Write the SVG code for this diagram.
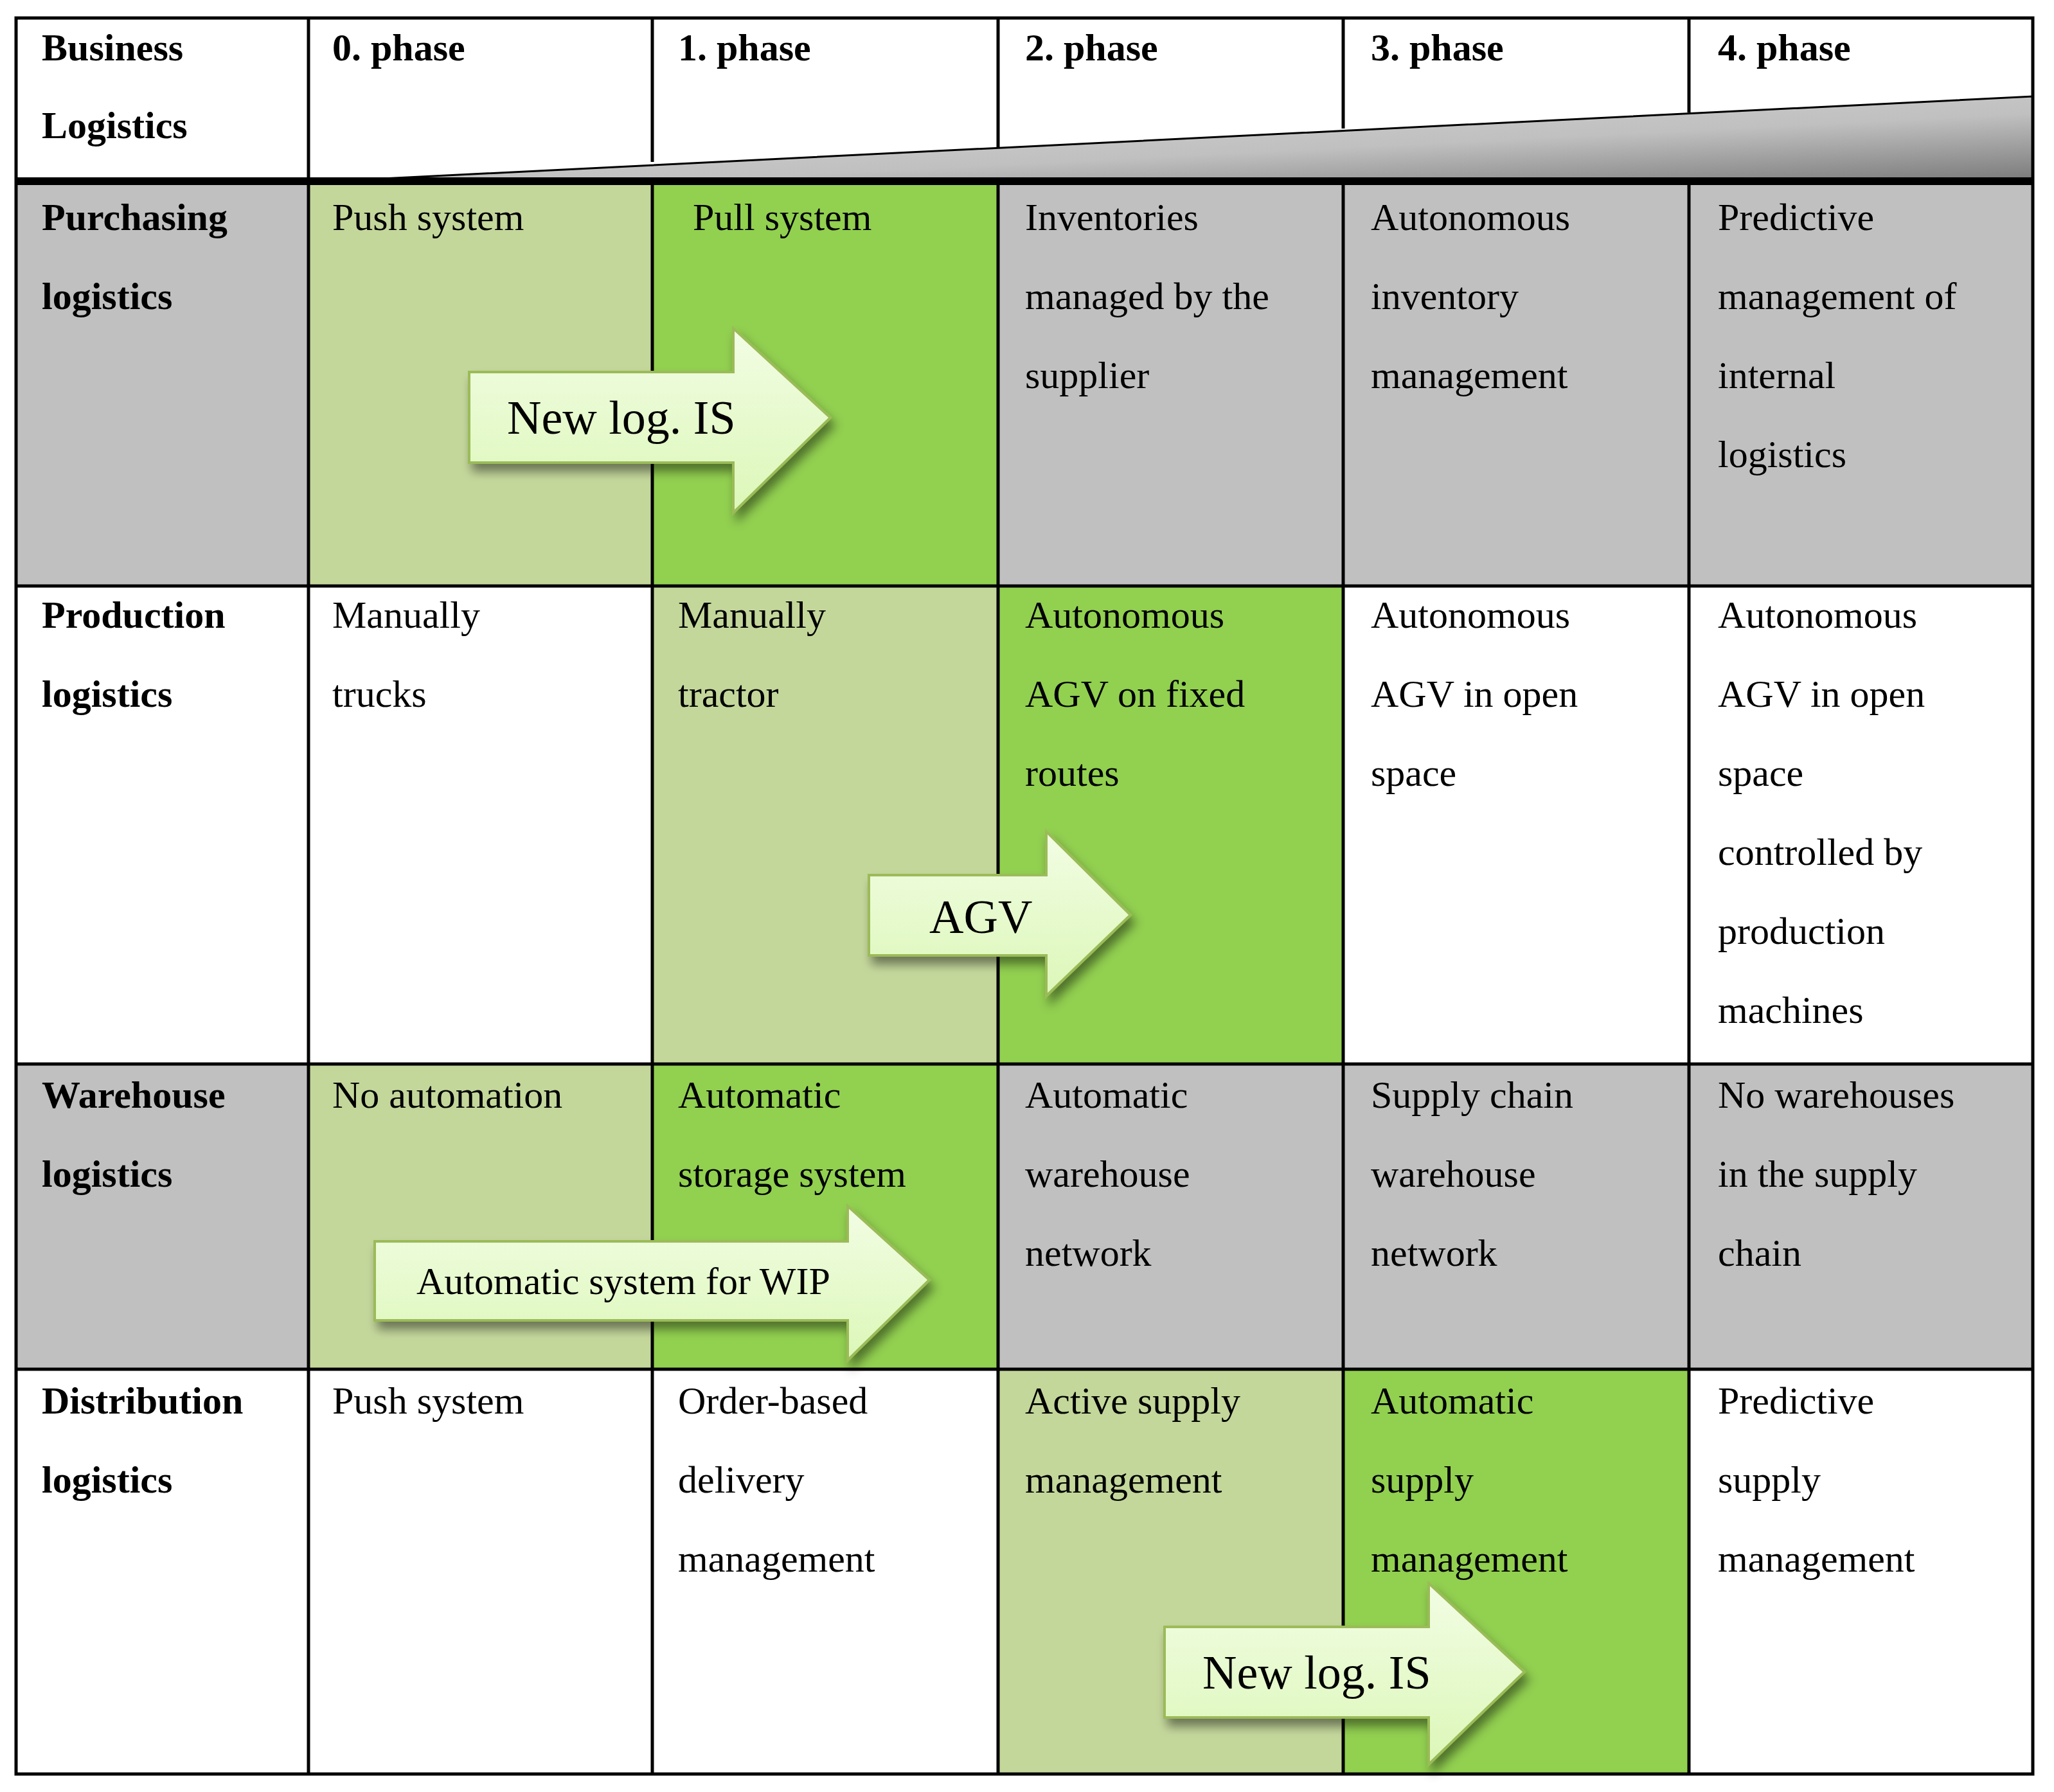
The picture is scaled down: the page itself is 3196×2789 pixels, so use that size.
<svg xmlns="http://www.w3.org/2000/svg" width="3196" height="2789" viewBox="0 0 3196 2789">
<style>
text{font-family:"Liberation Serif","DejaVu Serif",serif;font-size:60px;fill:#000}
.b{font-weight:bold}
.g{fill:#c0c0c0}.lg{fill:#c4d79b}.dg{fill:#92d050}.w{fill:#fff}
.ln{stroke:#000;stroke-width:5;fill:none}
.ar{fill:url(#ag);stroke:#9bbb59;stroke-width:4;filter:url(#sh)}
.al{font-size:74px}
</style>
<defs>
<linearGradient id="ag" x1="0" y1="0" x2="0" y2="1"><stop offset="0" stop-color="#f2fde4"/><stop offset="1" stop-color="#dcf7b8"/></linearGradient>
<linearGradient id="wg" x1="0" y1="0" x2="1" y2="1"><stop offset="0" stop-color="#d8d8d8"/><stop offset="0.6" stop-color="#c0c0c0"/><stop offset="1" stop-color="#7a7a7a"/></linearGradient>
<filter id="sh" x="-10%" y="-10%" width="130%" height="140%"><feDropShadow dx="6" dy="12" stdDeviation="8" flood-color="#000" flood-opacity="0.45"/></filter>
</defs>
<rect width="3196" height="2789" fill="#fff"/>
<g id="cells">
<rect class="g" x="25" y="282" width="455" height="630"/>
<rect class="lg" x="480" y="282" width="535" height="630"/>
<rect class="dg" x="1015" y="282" width="538" height="630"/>
<rect class="g" x="1553" y="282" width="1610" height="630"/>
<rect class="lg" x="1015" y="912" width="538" height="744"/>
<rect class="dg" x="1553" y="912" width="537" height="744"/>
<rect class="g" x="25" y="1656" width="455" height="475"/>
<rect class="lg" x="480" y="1656" width="535" height="475"/>
<rect class="dg" x="1015" y="1656" width="538" height="475"/>
<rect class="g" x="1553" y="1656" width="1610" height="475"/>
<rect class="lg" x="1553" y="2131" width="537" height="630"/>
<rect class="dg" x="2090" y="2131" width="538" height="630"/>
<polygon points="515,282 3163,150 3163,282" fill="url(#wg)" stroke="#000" stroke-width="3"/>
</g>
<g id="grid">
<rect x="25" y="28" width="3138" height="2733" class="ln" stroke-width="6"/>
<path class="ln" d="M480 28V2761M1015 28V252M1015 282V2761M1553 28V230M1553 282V2761M2090 28V200M2090 282V2761M2628 28V175M2628 282V2761M25 912H3163M25 1656H3163M25 2131H3163"/>
<line x1="25" y1="282" x2="3163" y2="282" stroke="#000" stroke-width="12"/>
</g>
<g id="header">
<text class="b" x="65" y="94">Business</text><text class="b" x="65" y="215">Logistics</text>
<text class="b" x="517" y="94">0. phase</text>
<text class="b" x="1055" y="94">1. phase</text>
<text class="b" x="1595" y="94">2. phase</text>
<text class="b" x="2133" y="94">3. phase</text>
<text class="b" x="2673" y="94">4. phase</text>
</g>
<g id="row1">
<text class="b" x="65" y="358">Purchasing</text><text class="b" x="65" y="481">logistics</text>
<text x="517" y="358">Push system</text>
<text x="1078" y="358">Pull system</text>
<text x="1595" y="358">Inventories</text><text x="1595" y="481">managed by the</text><text x="1595" y="604">supplier</text>
<text x="2133" y="358">Autonomous</text><text x="2133" y="481">inventory</text><text x="2133" y="604">management</text>
<text x="2673" y="358">Predictive</text><text x="2673" y="481">management of</text><text x="2673" y="604">internal</text><text x="2673" y="727">logistics</text>
</g>
<g id="row2">
<text class="b" x="65" y="977">Production</text><text class="b" x="65" y="1100">logistics</text>
<text x="517" y="977">Manually</text><text x="517" y="1100">trucks</text>
<text x="1055" y="977">Manually</text><text x="1055" y="1100">tractor</text>
<text x="1595" y="977">Autonomous</text><text x="1595" y="1100">AGV on fixed</text><text x="1595" y="1223">routes</text>
<text x="2133" y="977">Autonomous</text><text x="2133" y="1100">AGV in open</text><text x="2133" y="1223">space</text>
<text x="2673" y="977">Autonomous</text><text x="2673" y="1100">AGV in open</text><text x="2673" y="1223">space</text><text x="2673" y="1346">controlled by</text><text x="2673" y="1469">production</text><text x="2673" y="1592">machines</text>
</g>
<g id="row3">
<text class="b" x="65" y="1724">Warehouse</text><text class="b" x="65" y="1847">logistics</text>
<text x="517" y="1724">No automation</text>
<text x="1055" y="1724">Automatic</text><text x="1055" y="1847">storage system</text>
<text x="1595" y="1724">Automatic</text><text x="1595" y="1847">warehouse</text><text x="1595" y="1970">network</text>
<text x="2133" y="1724">Supply chain</text><text x="2133" y="1847">warehouse</text><text x="2133" y="1970">network</text>
<text x="2673" y="1724">No warehouses</text><text x="2673" y="1847">in the supply</text><text x="2673" y="1970">chain</text>
</g>
<g id="row4">
<text class="b" x="65" y="2200">Distribution</text><text class="b" x="65" y="2323">logistics</text>
<text x="517" y="2200">Push system</text>
<text x="1055" y="2200">Order-based</text><text x="1055" y="2323">delivery</text><text x="1055" y="2446">management</text>
<text x="1595" y="2200">Active supply</text><text x="1595" y="2323">management</text>
<text x="2133" y="2200">Automatic</text><text x="2133" y="2323">supply</text><text x="2133" y="2446">management</text>
<text x="2673" y="2200">Predictive</text><text x="2673" y="2323">supply</text><text x="2673" y="2446">management</text>
</g>
<g id="arrows">
<g id="arrow1"><polygon class="ar" points="730,579 1141,579 1141,511 1292,650 1141,798 1141,720 730,720"/><text class="al" x="789" y="675">New log. IS</text></g>
<g id="arrow2"><polygon class="ar" points="1352,1362 1628,1362 1628,1294 1759,1424 1628,1550 1628,1487 1352,1487"/><text class="al" x="1446" y="1452">AGV</text></g>
<g id="arrow3"><polygon class="ar" points="583,1932 1319,1932 1319,1877 1446,1992 1319,2117 1319,2055 583,2055"/><text x="648" y="2014" font-size="56">Automatic system for WIP</text></g>
<g id="arrow4"><polygon class="ar" points="1812,2532 2223,2532 2223,2464 2372,2602 2223,2746 2223,2673 1812,2673"/><text class="al" x="1871" y="2628">New log. IS</text></g>
</g>
</svg>
